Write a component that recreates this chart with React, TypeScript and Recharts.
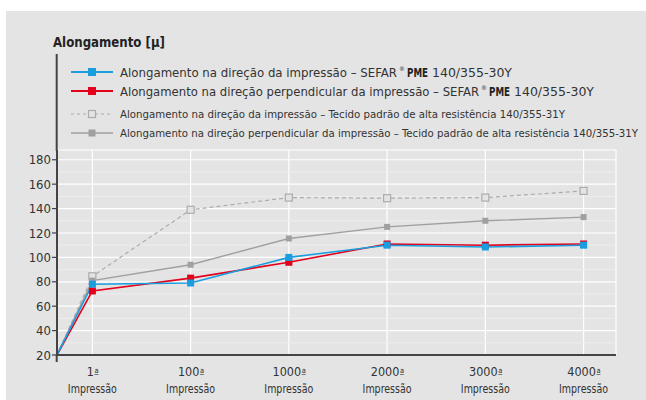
import { LineChart, Line, XAxis, YAxis, CartesianGrid, ReferenceLine } from "recharts";

// impressões (categorias do eixo X)
const categories = ["1", "100", "1000", "2000", "3000", "4000"];
const originValue = 20;
const originPos = 0.64;

// séries
const pmePrint = [78, 79, 100, 110, 108.5, 110];
const pmePerp = [72.5, 83, 96, 111, 110, 111];
const stdPrint = [84.5, 139, 149, 148.5, 149, 154.5];
const stdPerp = [81, 94, 115.5, 125, 130, 133];

const yTicks = [20, 40, 60, 80, 100, 120, 140, 160, 180];
const yMinor = [30, 50, 70, 90, 110, 130, 150, 170];

const data = [
  { x: originPos, pmePrint: originValue, pmePerp: originValue, stdPrint: originValue, stdPerp: originValue },
  ...categories.map((c, i) => ({
    x: i + 1,
    pmePrint: pmePrint[i],
    pmePerp: pmePerp[i],
    stdPrint: stdPrint[i],
    stdPerp: stdPerp[i],
  })),
];

const FONT = "'Liberation Sans Narrow', 'DejaVu Sans Condensed', 'Liberation Sans', sans-serif";
const BG = "#e4e4e4";
const BLUE = "#1a9ee0";
const RED = "#e3001b";
const GRAY = "#a0a0a0";
const GRAY_D = "#acacac";
const AXIS = "#444444";
const TEXT = "#333333";

const squareDot = (color: string, size: number, hollow = false) => (props: any) => {
  const { cx, cy, index } = props;
  if (index === 0 || cx == null || cy == null) return <g key={`d-${index}`} />;
  return (
    <rect
      key={`d-${index}`}
      x={cx - size / 2}
      y={cy - size / 2}
      width={size}
      height={size}
      fill={hollow ? BG : color}
      stroke={hollow ? color : "none"}
      strokeWidth={hollow ? 1.2 : 0}
    />
  );
};

const XTick = (props: any) => {
  const { x, y, payload } = props;
  const label = categories[payload.value - 1];
  if (label === undefined) return null;
  const sx = -2 + label.length * 3.6 + 0.5;
  return (
    <g transform={`translate(${x},${y})`}>
      <text x={-2} y={13} textAnchor="middle" fill={TEXT} fontSize={12.5} fontFamily={FONT}>
        {label}
      </text>
      <text x={sx} y={10} fill={TEXT} fontSize={7.5} fontFamily={FONT}>
        a
      </text>
      <line x1={sx} x2={sx + 4} y1={11.5} y2={11.5} stroke={TEXT} strokeWidth={0.6} />
      <text x={0} y={30} textAnchor="middle" fill={TEXT} fontSize={12} fontFamily={FONT} textLength={49} lengthAdjust="spacingAndGlyphs">
        Impressão
      </text>
    </g>
  );
};

const legendRows = [
  { y: 72, color: BLUE, dash: false, hollow: false, size: 8, width: 2, big: true, len: 277, tail: "Alongamento na direção da impressão – SEFAR" },
  { y: 91, color: RED, dash: false, hollow: false, size: 8, width: 2, big: true, len: 359, tail: "Alongamento na direção perpendicular da impressão – SEFAR" },
  { y: 114, color: GRAY_D, dash: true, hollow: true, size: 7, width: 1.2, big: false, len: 445, tail: "Alongamento na direção da impressão – Tecido padrão de alta resistência 140/355-31Y" },
  { y: 133, color: GRAY, dash: false, hollow: false, size: 7, width: 1.5, big: false, len: 518, tail: "Alongamento na direção perpendicular da impressão – Tecido padrão de alta resistência 140/355-31Y" },
];

export default function App() {
  return (
    <div style={{ position: "absolute", left: 0, top: 0, width: 646, height: 400, background: "#fff", fontFamily: FONT }}>
      <div style={{ position: "absolute", left: 6, top: 11, width: 640, height: 389, background: BG }} />

      <LineChart
        width={646}
        height={400}
        data={data}
        margin={{ top: 150, right: 30, bottom: 0, left: 0 }}
        style={{ position: "absolute", left: 0, top: 0 }}
      >
        <CartesianGrid stroke="#ffffff" strokeWidth={1.2} fill="none" />
        {yMinor.map((v) => (
          <ReferenceLine key={v} y={v} stroke="#eeeeee" strokeWidth={1} />
        ))}
        <XAxis
          dataKey="x"
          type="number"
          domain={[originPos, 6.33]}
          ticks={[1, 2, 3, 4, 5, 6]}
          allowDataOverflow
          height={45}
          axisLine={{ stroke: AXIS, strokeWidth: 2.2 }}
          tickLine={false}
          tick={<XTick />}
        />
        <YAxis
          domain={[20, 188]}
          ticks={yTicks}
          allowDataOverflow
          width={57}
          axisLine={{ stroke: AXIS, strokeWidth: 2 }}
          tickLine={{ stroke: AXIS, strokeWidth: 1.2 }}
          tickSize={5}
          tickMargin={1}
          tick={{ fill: TEXT, fontSize: 13, fontFamily: FONT }}
        />
        <Line dataKey="stdPrint" stroke={GRAY_D} strokeWidth={1.2} strokeDasharray="4 3" dot={squareDot(GRAY_D, 7, true)} isAnimationActive={false} />
        <Line dataKey="stdPerp" stroke={GRAY} strokeWidth={1.4} dot={squareDot(GRAY, 6)} isAnimationActive={false} />
        <Line dataKey="pmePerp" stroke={RED} strokeWidth={1.6} dot={squareDot(RED, 7)} isAnimationActive={false} />
        <Line dataKey="pmePrint" stroke={BLUE} strokeWidth={1.6} dot={squareDot(BLUE, 7)} isAnimationActive={false} />
      </LineChart>

      {/* título e legenda */}
      <svg width={646} height={400} style={{ position: "absolute", left: 0, top: 0, pointerEvents: "none" }}>
        <line x1={56.7} y1={54} x2={56.7} y2={151} stroke={AXIS} strokeWidth={2} />
        <line x1={56.7} y1={354} x2={56.7} y2={362} stroke={AXIS} strokeWidth={2} />
        <text x={53} y={47} fontSize={14.5} fontWeight="bold" fill="#222" fontFamily={FONT} textLength={112} lengthAdjust="spacingAndGlyphs">
          Alongamento [μ]
        </text>
        {legendRows.map((r) => {
          const end = 120 + r.len;
          return (
            <g key={r.y}>
              <line x1={71} x2={113} y1={r.y} y2={r.y} stroke={r.color} strokeWidth={r.width} strokeDasharray={r.dash ? "3 3" : undefined} />
              <rect
                x={92 - r.size / 2}
                y={r.y - r.size / 2}
                width={r.size}
                height={r.size}
                fill={r.hollow ? BG : r.color}
                stroke={r.hollow ? r.color : "none"}
                strokeWidth={1.2}
              />
              {r.big ? (
                <g fontFamily={FONT} fill={TEXT}>
                  <text x={120} y={r.y + 5} fontSize={12.8} textLength={r.len} lengthAdjust="spacingAndGlyphs">
                    {r.tail}
                  </text>
                  <text x={end + 2} y={r.y - 1} fontSize={6.5}>®</text>
                  <text x={end + 10} y={r.y + 5} fontSize={12.5} fontWeight="bold" fill="#222" textLength={21} lengthAdjust="spacingAndGlyphs">
                    PME
                  </text>
                  <text x={end + 35} y={r.y + 5} fontSize={13} textLength={80} lengthAdjust="spacingAndGlyphs">
                    140/355-30Y
                  </text>
                </g>
              ) : (
                <text x={120} y={r.y + 4} fontSize={11} fill={TEXT} fontFamily={FONT} textLength={r.len} lengthAdjust="spacingAndGlyphs">
                  {r.tail}
                </text>
              )}
            </g>
          );
        })}
      </svg>
    </div>
  );
}
